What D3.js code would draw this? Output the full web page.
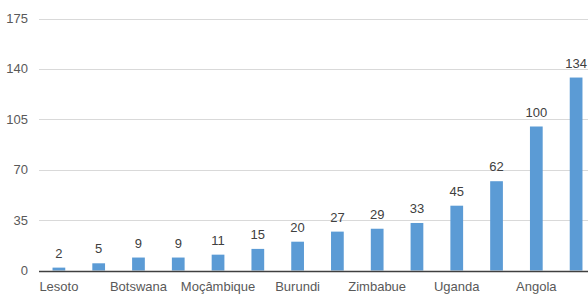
<!DOCTYPE html>
<html>
<head>
<meta charset="utf-8">
<script src="https://cdn.jsdelivr.net/npm/d3@7"></script>
<style>
  body { margin: 0; background: #fff; }
  svg text { font-family: "Liberation Sans", Arial, sans-serif; }
</style>
</head>
<body>
<svg id="chart"></svg>
<script>
// chart data
var countries = ["Lesoto", "Suazilândia", "Botswana", "Namíbia", "Moçâmbique", "Malawi", "Burundi",
                 "Ruanda", "Zimbabue", "Zâmbia", "Uganda", "Quénia", "Angola", "Nigéria"];
var values = [2, 5, 9, 9, 11, 15, 20, 27, 29, 33, 45, 62, 100, 134];
var yTicks = [0, 35, 70, 105, 140, 175];

var width = 588, height = 294;
var plotLeft = 39, plotRight = 596, plotTop = 18.5, plotBottom = 270.5;

var svg = d3.select("#chart")
    .attr("width", width)
    .attr("height", height);

var x = d3.scaleBand()
    .domain(countries)
    .range([plotLeft, plotRight])
    .paddingInner(0.68)
    .paddingOuter(0.34);

var y = d3.scaleLinear()
    .domain([0, 175])
    .range([plotBottom, plotTop]);

// gridlines
svg.append("g")
  .selectAll("line")
  .data(yTicks.slice(1))
  .enter()
  .append("line")
    .attr("x1", plotLeft)
    .attr("x2", width)
    .attr("y1", d => Math.round(y(d)) + 0.5)
    .attr("y2", d => Math.round(y(d)) + 0.5)
    .attr("stroke", "#d9d9d9")
    .attr("stroke-width", 1);

// y labels
svg.append("g")
  .selectAll("text")
  .data(yTicks)
  .enter()
  .append("text")
    .attr("x", 28)
    .attr("y", d => y(d))
    .attr("dy", "0.35em")
    .attr("text-anchor", "end")
    .attr("font-size", 13)
    .attr("fill", "#595959")
    .text(d => d);

// bars
svg.append("g")
  .selectAll("rect")
  .data(values)
  .enter()
  .append("rect")
    .attr("x", (d, i) => x(countries[i]))
    .attr("y", d => y(d))
    .attr("width", x.bandwidth())
    .attr("height", d => y(0) - y(d))
    .attr("fill", "#5b9bd5");

// value labels
svg.append("g")
  .selectAll("text")
  .data(values)
  .enter()
  .append("text")
    .attr("x", (d, i) => x(countries[i]) + x.bandwidth() / 2)
    .attr("y", d => y(d) - 10)
    .attr("text-anchor", "middle")
    .attr("font-size", 13)
    .attr("fill", "#404040")
    .text(d => d);

// x axis
var xAxis = d3.axisBottom(x)
    .tickValues(countries.filter((c, i) => i % 2 === 0))
    .tickSize(0)
    .tickPadding(10);

var gx = svg.append("g")
    .attr("transform", `translate(0,${Math.round(y(0)) + 0.5})`)
    .call(xAxis);
gx.select(".domain").remove();
gx.selectAll("text")
    .attr("font-size", 13)
    .attr("font-family", "Liberation Sans, Arial, sans-serif")
    .attr("fill", "#595959");

svg.append("line")
    .attr("x1", plotLeft)
    .attr("x2", width)
    .attr("y1", Math.round(y(0)) + 0.5)
    .attr("y2", Math.round(y(0)) + 0.5)
    .attr("stroke", "#404040")
    .attr("stroke-width", 1.5);
</script>
</body>
</html>
